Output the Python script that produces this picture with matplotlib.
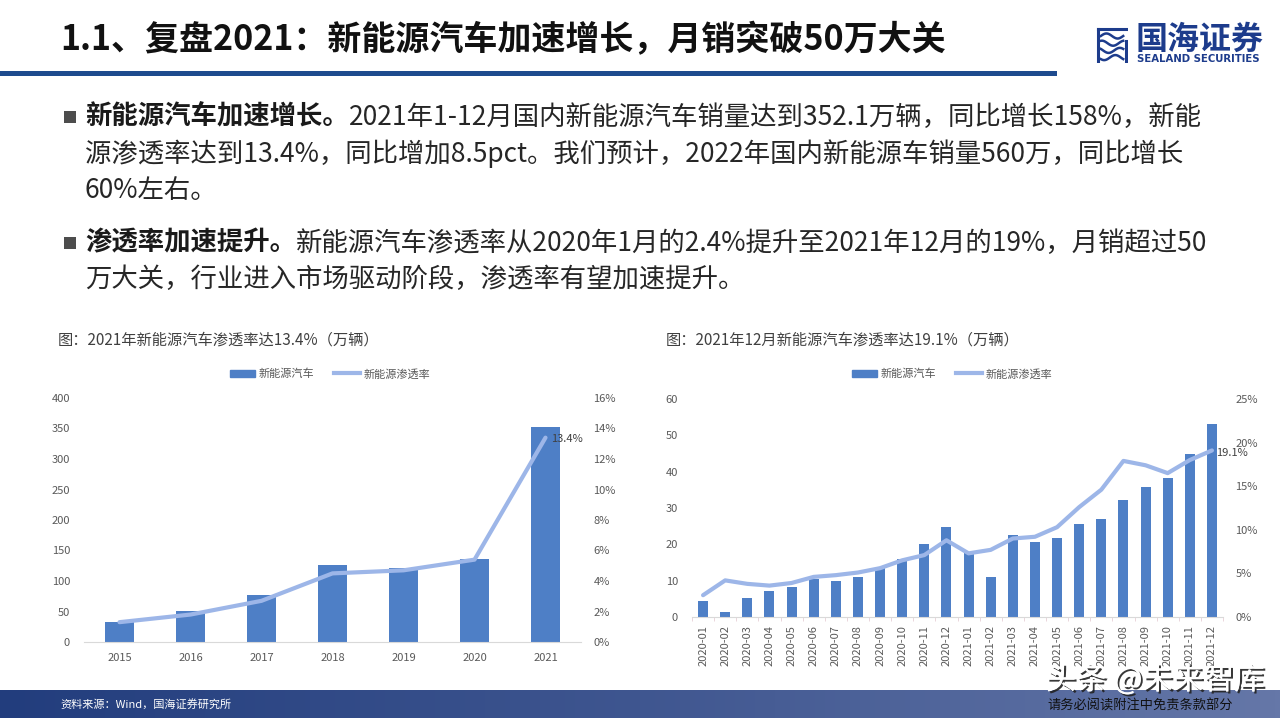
import numpy as np
import matplotlib.pyplot as plt
import matplotlib.patheffects as pe
from matplotlib.patches import Rectangle
from matplotlib.lines import Line2D
from matplotlib.colors import LinearSegmentedColormap

plt.rcParams['font.family'] = ['Noto Sans CJK SC', 'DejaVu Sans']

# yearly NEV sales (10k units) and penetration (%)
years = ['2015', '2016', '2017', '2018', '2019', '2020', '2021']
nev_year = [33.1, 50.7, 77.7, 125.6, 120.6, 136.7, 352.1]
pen_year = [1.3, 1.8, 2.7, 4.5, 4.7, 5.4, 13.4]

# monthly NEV sales (10k units) and penetration (%)
months = ['2020-01', '2020-02', '2020-03', '2020-04', '2020-05', '2020-06',
          '2020-07', '2020-08', '2020-09', '2020-10', '2020-11', '2020-12',
          '2021-01', '2021-02', '2021-03', '2021-04', '2021-05', '2021-06',
          '2021-07', '2021-08', '2021-09', '2021-10', '2021-11', '2021-12']
nev_month = [4.4, 1.3, 5.3, 7.2, 8.2, 10.4, 9.8, 10.9, 13.8, 16.0, 20.0, 24.8,
             17.9, 11.0, 22.6, 20.6, 21.7, 25.6, 27.1, 32.1, 35.7, 38.3, 45.0, 53.1]
pen_month = [2.5, 4.2, 3.8, 3.6, 3.9, 4.6, 4.8, 5.1, 5.6, 6.5, 7.1, 8.8,
             7.3, 7.7, 9.0, 9.2, 10.3, 12.6, 14.6, 17.9, 17.4, 16.5, 18.0, 19.1]

title = '1.1、复盘2021：新能源汽车加速增长，月销突破50万大关'
bullets = [
    ('新能源汽车加速增长。',
     ['2021年1-12月国内新能源汽车销量达到352.1万辆，同比增长158%，新能',
      '源渗透率达到13.4%，同比增加8.5pct。我们预计，2022年国内新能源车销量560万，同比增长',
      '60%左右。']),
    ('渗透率加速提升。',
     ['新能源汽车渗透率从2020年1月的2.4%提升至2021年12月的19%，月销超过50',
      '万大关，行业进入市场驱动阶段，渗透率有望加速提升。']),
]
cap1 = '图：2021年新能源汽车渗透率达13.4%（万辆）'
cap2 = '图：2021年12月新能源汽车渗透率达19.1%（万辆）'
leg_labels = ['新能源汽车', '新能源渗透率']

BAR = '#4e7fc6'
LINE = '#9db6e8'
TICK = '#595959'
W, H = 1280, 720


def fx(x):
    return x / W


def fy(y):
    return 1 - y / H


fig = plt.figure(figsize=(12.8, 7.2), dpi=100)

# header
fig.text(fx(60), fy(40), title, fontsize=24.5, fontweight='bold', color='#111111',
         va='center', ha='left')
fig.patches.append(Rectangle((0, fy(76)), fx(1057), 5 / H, transform=fig.transFigure,
                             color='#1e4b8e', lw=0))

# logo
fig.text(fx(1136), fy(40), '国海证券', fontsize=23, fontweight='bold', color='#1d3c8c',
         va='center', ha='left')
fig.text(fx(1137), fy(59), 'SEALAND SECURITIES', fontsize=7.3, fontweight='bold',
         color='#1d3c8c', va='center', ha='left', family='DejaVu Sans')
axl = fig.add_axes([fx(1096), fy(63), 32 / W, 36 / H])
axl.set_xlim(0, 1)
axl.set_ylim(0, 1)
axl.axis('off')
t = np.linspace(0, 1, 40)
axl.plot([0.05, 0.05], [0.05, 0.95], color='#1d3c8c', lw=2.2)
axl.plot([0.05, 0.95], [0.95, 0.95], color='#1d3c8c', lw=2.2)
axl.plot([0.95, 0.95], [0.05, 0.6], color='#1d3c8c', lw=2.2)
for k, yy in enumerate([0.75, 0.55, 0.35, 0.15]):
    axl.plot(0.15 + 0.7 * t, yy + 0.07 * np.sin(2 * np.pi * (t + 0.2 * k)),
             color='#1d3c8c', lw=1.8)

# bullet text
fig.canvas.draw()
renderer = fig.canvas.get_renderer()
line_y = [[117, 154, 190], [243, 279]]
for (bold, rest), ys in zip(bullets, line_y):
    fig.patches.append(Rectangle((fx(64), fy(ys[0] + 6)), 12 / W, 12 / H,
                                 transform=fig.transFigure, color='#4d4d4d', lw=0))
    tb = fig.text(fx(85), fy(ys[0]), bold, fontsize=19, fontweight='bold',
                  color='#1a1a1a', va='center', ha='left')
    x1 = tb.get_window_extent(renderer).x1
    fig.text(x1 / W, fy(ys[0]), rest[0], fontsize=19, color='#262626',
             va='center', ha='left')
    for s, yy in zip(rest[1:], ys[1:]):
        fig.text(fx(85), fy(yy), s, fontsize=19, color='#262626', va='center', ha='left')

# captions
fig.text(fx(58), fy(340), cap1, fontsize=11, color='#404040', va='center', ha='left')
fig.text(fx(666), fy(340), cap2, fontsize=11, color='#404040', va='center', ha='left')


def style(ax, tw):
    for s in ['top', 'left', 'right']:
        ax.spines[s].set_visible(False)
        tw.spines[s].set_visible(False)
    tw.spines['bottom'].set_visible(False)
    ax.spines['bottom'].set_color('#d9d9d9')
    ax.tick_params(axis='y', length=0, labelsize=8, labelcolor=TICK, pad=10)
    tw.tick_params(axis='y', length=0, labelsize=8, labelcolor=TICK, pad=9)
    ax.tick_params(axis='x', length=0, labelsize=8, labelcolor=TICK)


def legend(cx):
    handles = [Rectangle((0, 0), 1, 1, color=BAR), Line2D([], [], color=LINE, lw=3)]
    fig.legend(handles, leg_labels, loc='center', bbox_to_anchor=(fx(cx), fy(374)),
               ncol=2, frameon=False, fontsize=8, labelcolor=TICK, handlelength=2.3,
               handletextpad=0.3, columnspacing=1.8)


# left chart: yearly
ax1 = fig.add_axes([fx(84), fy(642), (581 - 84) / W, (642 - 398) / H])
x = np.arange(len(years))
ax1.bar(x, nev_year, width=0.4, color=BAR, zorder=2)
ax1.set_xlim(-0.5, len(years) - 0.5)
ax1.set_ylim(0, 400)
ax1.set_yticks(range(0, 401, 50))
ax1.set_xticks(x)
ax1.set_xticklabels(years)
ax1.tick_params(axis='x', pad=8)
tw1 = ax1.twinx()
tw1.plot(x, np.array(pen_year) / 100, color=LINE, lw=3, solid_capstyle='round')
tw1.set_ylim(0, 0.16)
tw1.set_yticks(np.arange(0, 0.161, 0.02))
tw1.set_yticklabels([f'{v:.0f}%' for v in np.arange(0, 16.1, 2)])
tw1.annotate(f'{pen_year[-1]}%', (x[-1], pen_year[-1] / 100), xytext=(4, -1),
             textcoords='offset points', fontsize=8, color='#404040', va='center')
style(ax1, tw1)
legend(330)

# right chart: monthly
ax2 = fig.add_axes([fx(692), fy(617), (1223 - 692) / W, (617 - 399) / H])
xm = np.arange(len(months))
ax2.bar(xm, nev_month, width=0.45, color=BAR, zorder=2)
ax2.set_xlim(-0.5, len(months) - 0.5)
ax2.set_ylim(0, 60)
ax2.set_yticks(range(0, 61, 10))
ax2.set_xticks(xm)
ax2.set_xticklabels(months, rotation=90)
ax2.set_xticks(np.arange(-0.5, len(months), 1), minor=True)
ax2.tick_params(axis='x', which='minor', length=3, color='#e6cfd6')
ax2.tick_params(axis='x', pad=6)
tw2 = ax2.twinx()
tw2.plot(xm, np.array(pen_month) / 100, color=LINE, lw=3, solid_capstyle='round')
tw2.set_ylim(0, 0.25)
tw2.set_yticks(np.arange(0, 0.251, 0.05))
tw2.set_yticklabels([f'{v:.0f}%' for v in np.arange(0, 25.1, 5)])
tw2.annotate(f'{pen_month[-1]}%', (xm[-1], pen_month[-1] / 100), xytext=(3, -2),
             textcoords='offset points', fontsize=8, color='#404040', va='center')
style(ax2, tw2)
legend(952)

# footer
axf = fig.add_axes([0, fy(718), 1, 28 / H])
cmap = LinearSegmentedColormap.from_list('foot', ['#223d7d', '#3f5690', '#6577a8'])
axf.imshow(np.linspace(0, 1, 256)[None, :], aspect='auto', cmap=cmap, extent=[0, 1, 0, 1])
axf.axis('off')
fig.text(fx(60), fy(704), '资料来源：Wind，国海证券研究所', fontsize=8, color='white',
         va='center', ha='left')
fig.text(fx(1155), fy(680), '头条 @未来智库', fontsize=22, color='white', va='center',
         ha='center', path_effects=[pe.withSimplePatchShadow(offset=(1.5, -1.5),
                                                            shadow_rgbFace='#222222', alpha=0.9),
                                    pe.Normal()])
fig.text(fx(1140), fy(706), '请务必阅读附注中免责条款部分', fontsize=9.5, color='#111111',
         va='center', ha='center')

fig.savefig('out.png', dpi=100)
